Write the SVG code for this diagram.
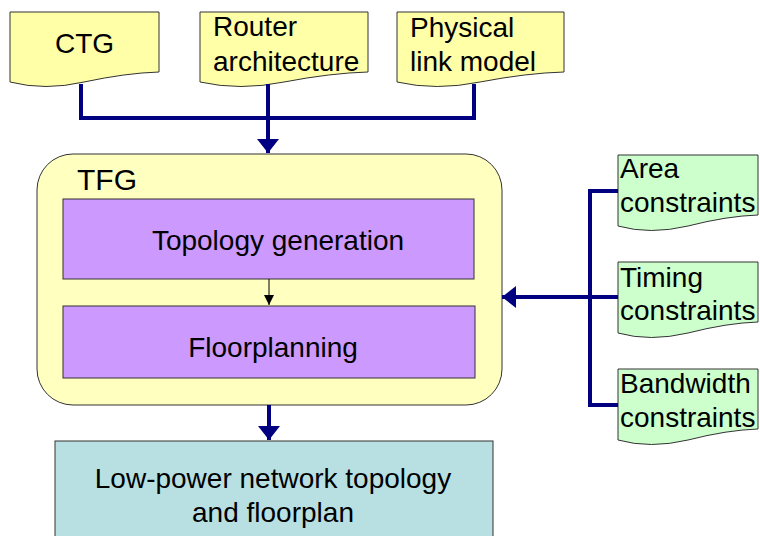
<svg xmlns="http://www.w3.org/2000/svg" width="760" height="536" viewBox="0 0 760 536">
<style>
text{font-family:"Liberation Sans",Arial,sans-serif;font-size:28px;fill:#000}
.doc{fill:#FFFFA8;stroke:#333;stroke-width:1}
.gdoc{fill:#CCFFCC;stroke:#333;stroke-width:1}
.conn{fill:none;stroke:#000080;stroke-width:4}
.mid{text-anchor:middle}
</style>
<defs>
<marker id="nav" markerUnits="userSpaceOnUse" markerWidth="22" markerHeight="22" refX="14" refY="11" orient="auto" viewBox="0 0 14 22">
<path d="M0,0 L14,11 L0,22 Z" fill="#000080"/>
</marker>
<marker id="blk" markerUnits="userSpaceOnUse" markerWidth="10" markerHeight="10" refX="8" refY="4" orient="auto" viewBox="0 0 8 8">
<path d="M0,0 L8,4 L0,8 Z" fill="#000"/>
</marker>
</defs>
<rect width="760" height="536" fill="#fff"/>
<g id="ctg">
<path class="doc" d="M10,12 H159 V72 Q126,73 84,82 Q45,91 10,82 Z"/>
<text x="55" y="53">CTG</text>
</g>
<g id="router">
<path class="doc" d="M200,12 H368 V72 Q331,73 284,82 Q240,91 200,82 Z"/>
<text x="213" y="36">Router</text>
<text x="213" y="71">architecture</text>
</g>
<g id="physical">
<path class="doc" d="M397,12 H564 V72 Q527,73 480,82 Q436,91 397,82 Z"/>
<text x="410" y="37">Physical</text>
<text x="410" y="71">link model</text>
</g>
<g id="tfg">
<rect x="37" y="154" width="465" height="251" rx="36" ry="36" fill="#FFFFC0" stroke="#333" stroke-width="1"/>
<text x="77" y="190" style="font-size:30px">TFG</text>
</g>
<g id="topology">
<rect x="63" y="199" width="411" height="80" fill="#CC99FF" stroke="#333" stroke-width="1"/>
<text class="mid" x="278" y="250">Topology generation</text>
</g>
<g id="floorplanning">
<rect x="63" y="306" width="412" height="72" fill="#CC99FF" stroke="#333" stroke-width="1"/>
<text class="mid" x="273" y="357">Floorplanning</text>
</g>
<g id="output">
<rect x="55" y="441" width="438" height="100" fill="#B8E0E2" stroke="#333" stroke-width="1"/>
<text class="mid" x="273" y="488">Low-power network topology</text>
<text class="mid" x="273" y="522">and floorplan</text>
</g>
<g id="area">
<path class="gdoc" d="M618,155 H758 V215 Q727,216 688,226 Q650,235 618,226 Z"/>
<text x="620" y="178">Area</text>
<text x="620" y="212">constraints</text>
</g>
<g id="timing">
<path class="gdoc" d="M618,262 H758 V322 Q727,323 688,333 Q650,342 618,333 Z"/>
<text x="620" y="287">Timing</text>
<text x="620" y="320">constraints</text>
</g>
<g id="bandwidth">
<path class="gdoc" d="M618,369 H758 V429 Q727,430 688,440 Q650,449 618,440 Z"/>
<text x="620" y="393">Bandwidth</text>
<text x="620" y="427">constraints</text>
</g>
<g id="connectors">
<path class="conn" d="M81,84 V118 H474 V84"/>
<path class="conn" d="M268,84 V153" marker-end="url(#nav)"/>
<path class="conn" d="M618,191 H590 V405 H618"/>
<path class="conn" d="M618,297 H502" marker-end="url(#nav)"/>
<path class="conn" d="M269,405 V440" marker-end="url(#nav)"/>
<path d="M269,279 V305" stroke="#000" stroke-width="1" fill="none" marker-end="url(#blk)"/>
</g>
</svg>
